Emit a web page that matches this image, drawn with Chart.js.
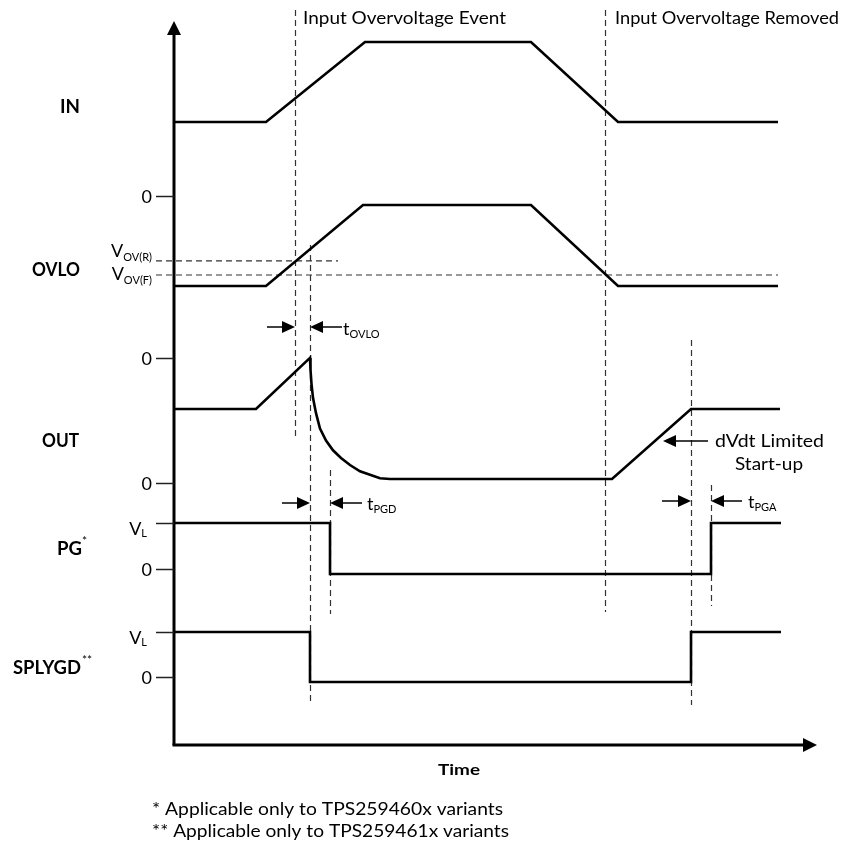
<!DOCTYPE html>
<html>
<head>
<meta charset="utf-8">
<script src="https://cdn.jsdelivr.net/npm/chart.js@4.4.1/dist/chart.umd.min.js"></script>
<style>
  html, body { margin: 0; padding: 0; background: #fff; }
  #wrap { width: 857px; height: 844px; position: relative; }
</style>
</head>
<body>
<div id="wrap"><canvas id="c"></canvas></div>
<script>
// time in diagram units (0 = the vertical axis), levels normalised per trace (0 = low, 1 = high)
const inT   = [0, 92, 191, 357, 444, 604];
const inV   = [0, 0, 1, 1, 0, 0];
const ovloT = [0, 92, 189, 357, 444, 604];
const ovloV = [0, 0, 1, 1, 0, 0];
const outT  = [0, 82, 136, 136.5, 137.5, 139, 142, 146, 152, 159, 167, 176, 186, 196, 206, 216, 438, 517, 606];
const outV  = [1, 1, 1.73, 1.56, 1.36, 1.16, 0.94, 0.72, 0.55, 0.41, 0.30, 0.20, 0.11, 0.06, 0.01, 0, 0, 1, 1];
const pgT   = [0, 156, 156, 537, 537, 607];
const pgV   = [1, 1, 0, 0, 1, 1];
const sgT   = [0, 136, 136, 517, 517, 607];
const sgV   = [1, 1, 0, 0, 1, 1];

// OVLO thresholds
const vovR = 0.31, vovRT = [-18, 164];
const vovF = 0.136, vovFT = [-18, 604];

// tick levels / labels per trace
const ovloTicks = [1.11];          const ovloTickLbl = ['0'];
const outTicks  = [1.73, -0.057];  const outTickLbl  = ['0', '0'];
const pgTicks   = [1, 0.1];        const pgTickLbl   = ['VL', '0'];
const sgTicks   = [1, 0.1];        const sgTickLbl   = ['VL', '0'];

// event markers (time)
const tEvent = 121, tRemoved = 431, tOvlo = 136, tPgd = 156, tOutUp = 517, tPga = 537;

// ---- layout (pixels) ----
const W = 857, H = 844;
const AXIS_Y = 745, TIP_Y = 21, TIP_X = 817;
// pixel row of level 0 and level 1 for every trace
function band(p0, p1) {
  const u = p0 - p1;
  const min = -(H - p0) / u;
  return { type: 'linear', display: false, min, max: min + H / u };
}

const FONT = 'Lato, "Open Sans", sans-serif';

function zip(t, v) { return t.map((x, i) => ({ x, y: v[i] })); }

function trace(t, v, axis) {
  return {
    data: zip(t, v), yAxisID: axis, showLine: true, pointRadius: 0,
    borderColor: '#000', borderWidth: 2.6, borderJoinStyle: 'miter', tension: 0, clip: false,
  };
}
function dashed(t, lvl, axis) {
  return {
    data: t.map(x => ({ x, y: lvl })), yAxisID: axis, showLine: true, pointRadius: 0,
    borderColor: '#333', borderWidth: 1.2, borderDash: [6, 4], clip: false,
  };
}

function txt(ctx, s, x, y, size, o = {}) {
  ctx.font = `${o.bold ? 'bold ' : ''}${size}px ${FONT}`;
  const w = ctx.measureText(s).width;
  const k = o.w ? o.w / w : 1;
  let x0 = x;
  if (o.align === 'right') x0 = x - w * k;
  if (o.align === 'center') x0 = x - w * k / 2;
  ctx.save();
  ctx.translate(x0, y);
  ctx.scale(k, 1);
  ctx.textAlign = 'left';
  ctx.textBaseline = 'alphabetic';
  ctx.fillStyle = '#000';
  ctx.fillText(s, 0, 0);
  ctx.restore();
  return w * k;
}
// main + subscript
function subTxt(ctx, main, sub, x, y, size, subSize, o = {}) {
  ctx.font = `${size}px ${FONT}`;
  const w1 = ctx.measureText(main).width;
  ctx.font = `${subSize}px ${FONT}`;
  const w2 = ctx.measureText(sub).width;
  let x0 = x;
  if (o.align === 'right') x0 = x - w1 - w2;
  txt(ctx, main, x0, y, size);
  txt(ctx, sub, x0 + w1, y + (o.dy ?? 3), subSize);
}
function arrow(ctx, x1, x2, y) {
  const dir = Math.sign(x2 - x1);
  ctx.save();
  ctx.strokeStyle = '#000'; ctx.fillStyle = '#000'; ctx.lineWidth = 1.5;
  ctx.beginPath(); ctx.moveTo(x1, y); ctx.lineTo(x2 - dir * 10, y); ctx.stroke();
  ctx.beginPath(); ctx.moveTo(x2, y); ctx.lineTo(x2 - dir * 13, y - 6); ctx.lineTo(x2 - dir * 13, y + 6); ctx.closePath(); ctx.fill();
  ctx.restore();
}

const decor = {
  id: 'decor',
  beforeDatasetsDraw(chart) {
    const { ctx, scales } = chart;
    const xs = scales.x;
    // dashed event lines
    const vlines = [[tEvent, 10, 440], [tRemoved, 10, 612], [tOvlo, 245, 705],
                    [tPgd, 470, 614], [tOutUp, 340, 705], [tPga, 485, 606]];
    ctx.save();
    ctx.strokeStyle = '#333'; ctx.lineWidth = 1.2; ctx.setLineDash([6, 4]);
    vlines.forEach(([t, y1, y2]) => {
      const x = Math.round(xs.getPixelForValue(t)) + 0.5;
      ctx.beginPath(); ctx.moveTo(x, y1); ctx.lineTo(x, y2); ctx.stroke();
    });
    ctx.restore();

    // axes with arrow heads
    const x0 = xs.getPixelForValue(0);
    ctx.save();
    ctx.strokeStyle = '#000'; ctx.fillStyle = '#000'; ctx.lineWidth = 3;
    ctx.beginPath(); ctx.moveTo(x0, AXIS_Y); ctx.lineTo(x0, TIP_Y + 12); ctx.stroke();
    ctx.beginPath(); ctx.moveTo(x0 - 1.5, AXIS_Y); ctx.lineTo(TIP_X - 12, AXIS_Y); ctx.stroke();
    ctx.beginPath(); ctx.moveTo(x0, TIP_Y); ctx.lineTo(x0 - 7, TIP_Y + 14); ctx.lineTo(x0 + 7, TIP_Y + 14); ctx.closePath(); ctx.fill();
    ctx.beginPath(); ctx.moveTo(TIP_X, AXIS_Y); ctx.lineTo(TIP_X - 14, AXIS_Y - 7); ctx.lineTo(TIP_X - 14, AXIS_Y + 7); ctx.closePath(); ctx.fill();
    ctx.restore();

    // tick marks + labels
    const tickX1 = xs.getPixelForValue(-18);
    const sets = [['yOvlo', ovloTicks, ovloTickLbl], ['yOut', outTicks, outTickLbl],
                  ['yPg', pgTicks, pgTickLbl], ['ySg', sgTicks, sgTickLbl]];
    ctx.save();
    ctx.strokeStyle = '#222'; ctx.lineWidth = 1.5;
    sets.forEach(([id, vals, lbls]) => {
      vals.forEach((v, i) => {
        const y = Math.round(scales[id].getPixelForValue(v)) + 0.5;
        ctx.beginPath(); ctx.moveTo(tickX1, y); ctx.lineTo(x0, y); ctx.stroke();
        if (lbls[i] === 'VL') subTxt(ctx, 'V', 'L', 147, y + 11, 18, 11, { align: 'right', dy: 2 });
        else txt(ctx, lbls[i], 152, y + 6, 18, { align: 'right' });
      });
    });
    ctx.restore();
    // threshold labels
    const yR = scales.yOvlo.getPixelForValue(vovR), yF = scales.yOvlo.getPixelForValue(vovF);
    subTxt(ctx, 'V', 'OV(R)', 152, yR - 4, 18, 11, { align: 'right', dy: 4 });
    subTxt(ctx, 'V', 'OV(F)', 152, yF + 5, 18, 11, { align: 'right', dy: 4 });
  },
  afterDatasetsDraw(chart) {
    const { ctx, scales } = chart;
    const xs = scales.x;
    const px = t => xs.getPixelForValue(t);

    // titles of events
    txt(ctx, 'Input Overvoltage Event', 303, 24, 17, { w: 203 });
    txt(ctx, 'Input Overvoltage Removed', 615, 24, 17, { w: 224 });

    // trace names
    txt(ctx, 'IN', 80, 113, 18, { bold: true, align: 'right', w: 20 });
    txt(ctx, 'OVLO', 80, 276, 18, { bold: true, align: 'right', w: 48 });
    txt(ctx, 'OUT', 79, 447, 18, { bold: true, align: 'right', w: 37 });
    txt(ctx, 'PG', 82, 555, 18, { bold: true, align: 'right', w: 25 });
    txt(ctx, '*', 82, 545, 12);
    txt(ctx, 'SPLYGD', 81, 674, 18, { bold: true, align: 'right', w: 68 });
    txt(ctx, '**', 82, 664, 12);

    // timing arrows
    arrow(ctx, px(93), px(tEvent), 327);
    arrow(ctx, px(168), px(tOvlo), 327);
    subTxt(ctx, 't', 'OVLO', 343, 335, 18, 11, { dy: 3 });
    arrow(ctx, px(108), px(tOvlo), 503);
    arrow(ctx, px(188), px(tPgd), 503);
    subTxt(ctx, 't', 'PGD', 367, 510, 18, 11, { dy: 3 });
    arrow(ctx, px(488), px(tOutUp), 501);
    arrow(ctx, px(568), px(tPga), 501);
    subTxt(ctx, 't', 'PGA', 748, 508, 18, 11, { dy: 3 });
    arrow(ctx, px(534), px(489), 441);
    txt(ctx, 'dVdt Limited', 715, 447, 17, { w: 109 });
    txt(ctx, 'Start-up', 735, 470, 17, { w: 68 });

    // axis name + notes
    txt(ctx, 'Time', 438, 775, 16, { bold: true, w: 42 });
    txt(ctx, '* Applicable only to TPS259460x variants', 152, 815, 17, { w: 351 });
    txt(ctx, '** Applicable only to TPS259461x variants', 152, 837, 17, { w: 357 });
  },
};

new Chart(document.getElementById('c'), {
  type: 'scatter',
  data: {
    datasets: [
      trace(inT, inV, 'yIn'),
      trace(ovloT, ovloV, 'yOvlo'),
      trace(outT, outV, 'yOut'),
      trace(pgT, pgV, 'yPg'),
      trace(sgT, sgV, 'ySg'),
      dashed(vovRT, vovR, 'yOvlo'),
      dashed(vovFT, vovF, 'yOvlo'),
    ],
  },
  options: {
    responsive: true, maintainAspectRatio: false, animation: false, events: [],
    layout: { padding: 0 },
    plugins: { legend: { display: false }, tooltip: { enabled: false }, title: { display: false } },
    scales: {
      x: { type: 'linear', display: false, min: -174, max: W - 174 },
      yIn:   band(122, 42),
      yOvlo: band(286, 205),
      yOut:  band(479, 409),
      yPg:   band(574, 523),
      ySg:   band(682, 632),
    },
  },
  plugins: [decor],
});
</script>
</body>
</html>
